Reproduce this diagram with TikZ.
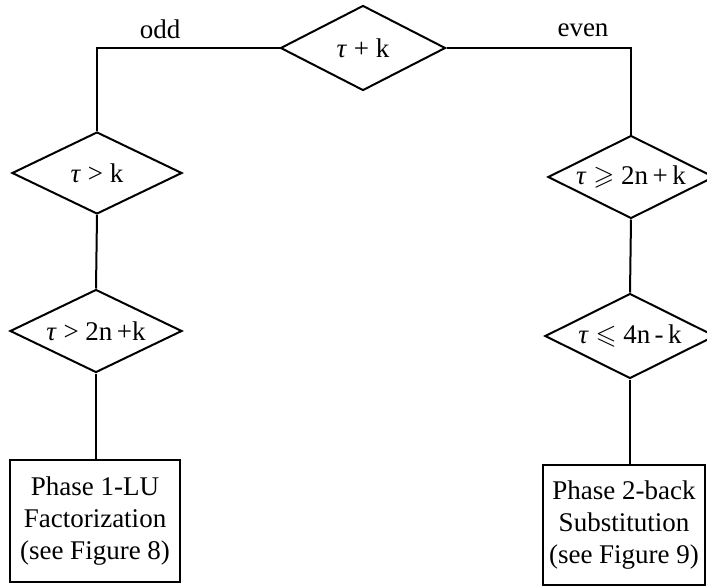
\documentclass[tikz,border=0pt]{standalone}
\usepackage{fontspec}
\usepackage{amssymb}
\setmainfont{Liberation Serif}
\usetikzlibrary{shapes.geometric}
\newcommand{\tauvar}{\textit{τ}}
\begin{document}
\begin{tikzpicture}[x=1pt,y=-1pt,
  every node/.style={font=\fontsize{27}{32}\selectfont},
  test/.style={diamond,draw,line width=2pt,inner sep=0pt},
  procbox/.style={rectangle,draw,line width=2pt,inner sep=0pt,align=center},
  link/.style={line width=2pt},
  branch/.style={inner sep=0pt}]
\useasboundingbox (0,0) rectangle (707,587);

% decision on tau + k
\node[test,minimum width=165pt,minimum height=85pt,
  label={center:\tauvar\ + k}] (d0) at (363,48) {};

% odd branch
\node[test,minimum width=170pt,minimum height=82pt,
  label={center:\tauvar\ > k}] (d1) at (97,173) {};
\node[test,minimum width=172pt,minimum height=83pt,
  label={center:\tauvar\ > 2n\,+k}] (d2) at (96,331) {};
\node[procbox,minimum width=170pt,minimum height=122pt] (b1) at (95,521)
  {Phase 1-LU\\Factorization\\(see Figure 8)};

% even branch
\node[test,minimum width=166pt,minimum height=83pt,
  label={center:\tauvar\ $\geqslant$ 2n\,+\,k}] (d3) at (631,177) {};
\node[test,minimum width=170pt,minimum height=85pt,
  label={center:\tauvar\ $\leqslant$ 4n\,-\,k}] (d4) at (630,336) {};
\node[procbox,minimum width=162pt,minimum height=120pt] (b2) at (624,525)
  {Phase 2-back\\Substitution\\(see Figure 9)};

% branch labels
\node[branch] (lodd) at (160,29) {odd};
\node[branch] (leven) at (583,30) {even};

% connectors
\draw[link] (d0.west) -| (d1.north);
\draw[link] (d0.east) -| (d3.north);
\draw[link] (d1.south) -- (d2.north);
\draw[link] (d2.south) -- (d2.south |- b1.north);
\draw[link] (d3.south) -- (d4.north);
\draw[link] (d4.south) -- (d4.south |- b2.north);
\end{tikzpicture}
\end{document}
